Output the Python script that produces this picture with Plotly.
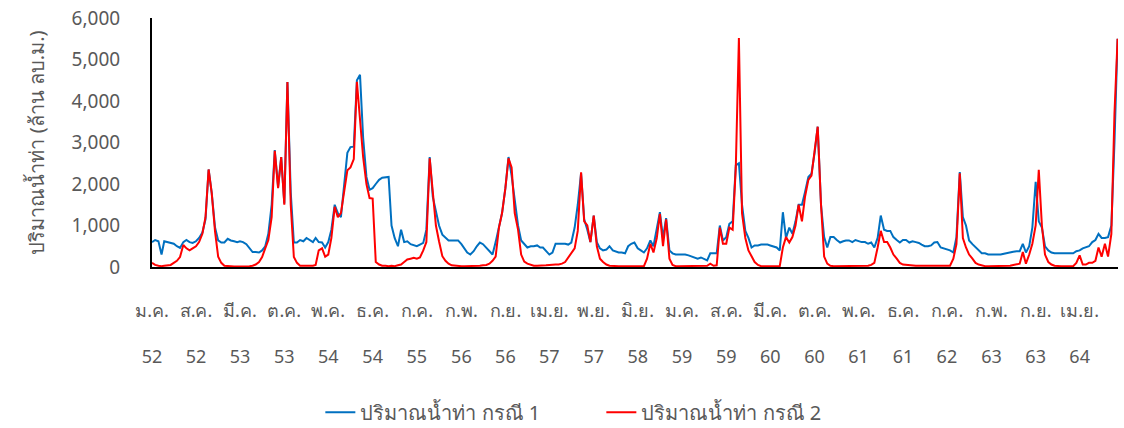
import plotly.graph_objects as go

# semi-monthly readings (1st and 16th of each month), million m3
flow_case1 = [
    600, 650, 620, 300, 620, 600, 580, 560, 500, 460, 600, 650, 600, 580, 620, 700, 830, 1150, 2350, 1780, 950, 640, 590, 590,  # 2009
    680, 640, 620, 600, 620, 600, 550, 450, 360, 360, 350, 400, 500, 800, 1500, 2820, 1930, 2650, 1530, 4460, 1800, 590, 590, 650,  # 2010
    620, 700, 650, 600, 700, 600, 590, 470, 600, 900, 1500, 1300, 1200, 2000, 2750, 2890, 2900, 4500, 4630, 3120, 2170, 1860, 1900, 2000,  # 2011
    2100, 2150, 2170, 2170, 1000, 700, 500, 900, 600, 620, 550, 520, 500, 540, 580, 900, 2650, 1690, 1350, 1000, 780, 700, 640, 640,  # 2012
    640, 640, 550, 450, 350, 300, 380, 500, 590, 550, 470, 380, 300, 600, 1000, 1300, 1900, 2650, 2200, 1600, 1000, 640, 550, 470,  # 2013
    500, 500, 520, 470, 470, 380, 300, 350, 560, 560, 560, 560, 540, 590, 950, 1500, 2260, 1150, 900, 600, 1240, 600, 450, 400,  # 2014
    420, 500, 400, 380, 350, 350, 330, 500, 560, 590, 450, 400, 350, 450, 640, 500, 900, 1320, 700, 1180, 400, 330, 300, 300,  # 2015
    300, 300, 280, 250, 230, 200, 230, 200, 160, 330, 330, 330, 1000, 640, 720, 1040, 1100, 2450, 2500, 1500, 870, 700, 470, 520,  # 2016
    520, 540, 540, 540, 520, 500, 470, 400, 1320, 700, 950, 800, 1100, 1500, 1500, 1810, 2170, 2250, 2750, 3380, 1500, 720, 470, 720,  # 2017
    720, 650, 590, 620, 640, 640, 600, 650, 620, 600, 600, 560, 590, 470, 700, 1240, 900, 870, 870, 720, 650, 590, 650, 650,  # 2018
    590, 620, 600, 580, 540, 500, 500, 520, 590, 600, 470, 450, 420, 400, 350, 720, 2290, 1200, 1000, 640, 550, 470, 400, 330,  # 2019
    330, 300, 300, 300, 300, 300, 320, 340, 350, 370, 380, 380, 560, 350, 500, 950, 2050, 1100, 950, 500, 400, 350, 330, 330,  # 2020
    330, 330, 330, 330, 330, 380, 400, 450, 470, 500, 600, 650, 800, 700, 700, 720, 1000, 3000, 5500,  # 2021
]

flow_case2 = [
    100, 50, 30, 20, 30, 40, 50, 100, 150, 240, 530, 450, 400, 450, 500, 600, 800, 1200, 2350, 1780, 850, 250, 100, 30,  # 2009
    20, 10, 10, 10, 10, 10, 10, 20, 30, 60, 120, 240, 450, 650, 1200, 2800, 1900, 2650, 1500, 4460, 1500, 240, 100, 30,  # 2010
    30, 30, 30, 30, 50, 400, 450, 250, 300, 700, 1450, 1200, 1300, 1800, 2330, 2400, 2600, 4460, 3550, 2650, 2000, 1660, 1650, 120,  # 2011
    60, 30, 30, 20, 30, 20, 40, 60, 120, 180, 200, 220, 200, 230, 400, 600, 2620, 1800, 1000, 620, 260, 150, 80, 40,  # 2012
    30, 20, 20, 20, 20, 20, 30, 30, 30, 40, 50, 80, 150, 250, 950, 1300, 1900, 2620, 2400, 1300, 900, 300, 130, 80,  # 2013
    50, 30, 30, 30, 30, 40, 50, 60, 60, 60, 80, 120, 220, 330, 450, 870, 2280, 1100, 1000, 600, 1240, 500, 200, 120,  # 2014
    60, 30, 20, 20, 20, 20, 20, 20, 20, 20, 20, 20, 20, 200, 560, 350, 700, 1280, 500, 1150, 200, 50, 20, 20,  # 2015
    20, 20, 20, 20, 20, 20, 20, 20, 30, 80, 30, 40, 950, 560, 560, 950, 900, 2400, 5520, 1300, 700, 400, 250, 120,  # 2016
    50, 20, 20, 20, 20, 20, 20, 20, 470, 720, 590, 720, 1000, 1500, 1100, 1700, 2100, 2200, 2800, 3380, 1500, 250, 80, 30,  # 2017
    20, 20, 20, 20, 20, 20, 20, 20, 20, 30, 30, 30, 50, 100, 470, 870, 600, 600, 470, 300, 200, 100, 60, 50,  # 2018
    50, 40, 30, 30, 30, 30, 30, 30, 30, 30, 30, 30, 30, 30, 200, 550, 2260, 700, 470, 300, 200, 100, 60, 40,  # 2019
    20, 20, 20, 20, 20, 20, 20, 30, 30, 50, 60, 80, 360, 80, 300, 560, 1000, 2340, 1000, 300, 120, 60, 30, 20,  # 2020
    20, 20, 20, 20, 20, 100, 280, 60, 60, 100, 100, 150, 470, 250, 560, 250, 800, 3700, 5500,  # 2021
]

dates = [f"{y}-{m:02d}-{d:02d}" for y in range(2009, 2022) for m in range(1, 13) for d in (1, 16)]
dates = dates[:len(flow_case1)]

tick_dates = [
    "2009-01-01", "2009-08-01", "2010-03-01", "2010-10-01", "2011-05-01", "2011-12-01",
    "2012-07-01", "2013-02-01", "2013-09-01", "2014-04-01", "2014-11-01", "2015-06-01",
    "2016-01-01", "2016-08-01", "2017-03-01", "2017-10-01", "2018-05-01", "2018-12-01",
    "2019-07-01", "2020-02-01", "2020-09-01", "2021-04-01",
]
tick_months = [
    "ม.ค.", "ส.ค.", "มี.ค.", "ต.ค.", "พ.ค.", "ธ.ค.", "ก.ค.", "ก.พ.", "ก.ย.", "เม.ย.", "พ.ย.",
    "มิ.ย.", "ม.ค.", "ส.ค.", "มี.ค.", "ต.ค.", "พ.ค.", "ธ.ค.", "ก.ค.", "ก.พ.", "ก.ย.", "เม.ย.",
]
tick_years = [
    "52", "52", "53", "53", "54", "54", "55", "56", "56", "57", "57",
    "58", "59", "59", "60", "60", "61", "61", "62", "63", "63", "64",
]
tick_text = [f"{m}<br><br>{y}" for m, y in zip(tick_months, tick_years)]

FONT = "Tahoma, Noto Sans, DejaVu Sans, sans-serif"
GREY = "#595959"

fig = go.Figure()
fig.add_trace(go.Scatter(x=dates, y=flow_case1, name="ปริมาณน้ำท่า กรณี 1",
                         mode="lines", line=dict(color="#0070C0", width=2)))
fig.add_trace(go.Scatter(x=dates, y=flow_case2, name="ปริมาณน้ำท่า กรณี 2",
                         mode="lines", line=dict(color="#FF0000", width=2)))

fig.update_layout(
    width=1124,
    height=428,
    margin=dict(l=152, r=6, t=18, b=161, autoexpand=False),
    plot_bgcolor="white",
    paper_bgcolor="white",
    font=dict(family=FONT, size=19, color=GREY),
    showlegend=True,
    legend=dict(orientation="h", xref="container", yref="container",
                x=0.285, xanchor="left", y=0.037, yanchor="middle",
                font=dict(size=20, color=GREY), entrywidth=236),
)
fig.update_xaxes(
    type="date",
    range=["2009-01-01", "2021-10-03"],
    tickvals=tick_dates,
    ticktext=tick_text,
    tickangle=0,
    showgrid=False,
    showline=True,
    linecolor="black",
    linewidth=2,
    ticks="",
    ticklabelstandoff=26,
    automargin=False,
    tickfont=dict(size=18, color=GREY),
)
fig.update_yaxes(
    range=[0, 6000],
    tickvals=[0, 1000, 2000, 3000, 4000, 5000, 6000],
    tickformat=",d",
    showgrid=False,
    showline=True,
    linecolor="black",
    linewidth=2,
    ticks="",
    ticklabelstandoff=26,
    zeroline=False,
    automargin=False,
    tickfont=dict(size=19, color=GREY),
    title=dict(text="ปริมาณน้ำท่า (ล้าน ลบ.ม.)", font=dict(size=20, color=GREY), standoff=22),
)

fig.write_html("out.html", config={"displayModeBar": False},
               post_script="document.body.style.margin = '0';")
